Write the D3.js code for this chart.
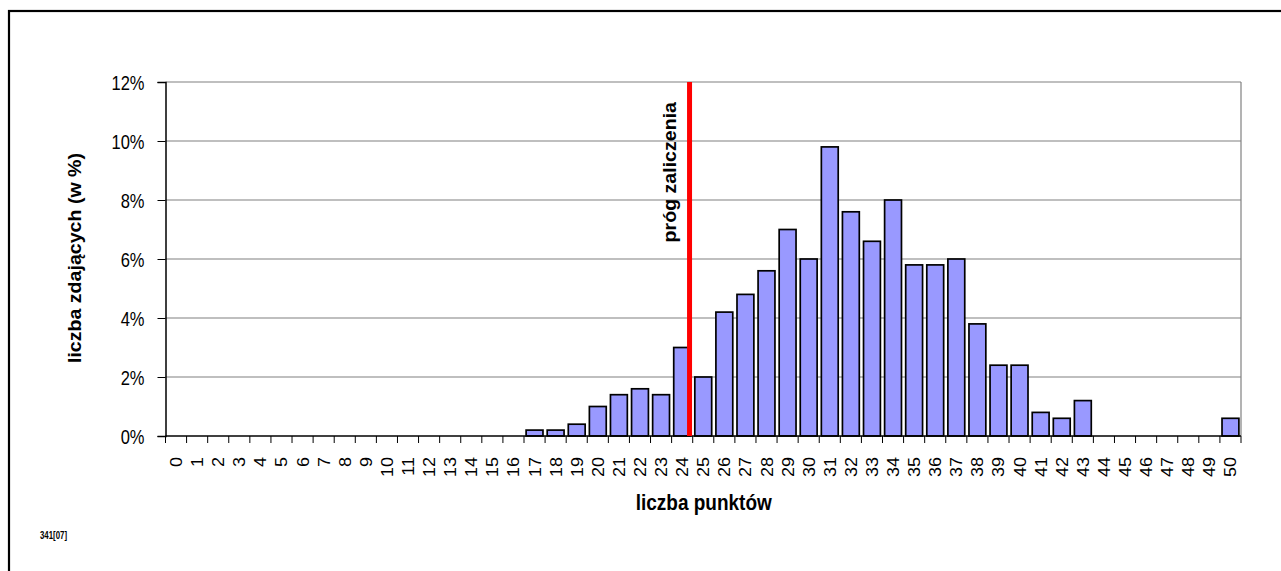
<!DOCTYPE html>
<html><head><meta charset="utf-8">
<script src="https://cdn.jsdelivr.net/npm/d3@7"></script>
<style>body{margin:0;background:#fff;} svg{display:block;font-family:"Liberation Sans",Arial,sans-serif;}</style>
</head><body>
<script>
const categories = d3.range(0, 51).map(String);
const values = [0,0,0,0,0,0,0,0,0,0,0,0,0,0,0,0,0,0.2,0.2,0.4,1.0,1.4,1.6,1.4,3.0,2.0,4.2,4.8,5.6,7.0,6.0,9.8,7.6,6.6,8.0,5.8,5.8,6.0,3.8,2.4,2.4,0.8,0.6,1.2,0,0,0,0,0,0,0.6];
const yTicks = [0,2,4,6,8,10,12];
const threshold = 24.85;
const thresholdLabel = "próg zaliczenia";
const xTitle = "liczba punktów";
const yTitle = "liczba zdających (w %)";
const footnote = "341[07]";

const W = 1281, H = 571;
const m = {left:165.5, top:82, right:1241, bottom:436};
const svg = d3.select("body").append("svg").attr("width", W).attr("height", H);

// outer frame
svg.append("rect").attr("x",9).attr("y",11).attr("width",1300).attr("height",600)
  .attr("fill","none").attr("stroke","#000").attr("stroke-width",2.2);

const xb = d3.scaleBand().domain(categories).range([m.left, m.right]).paddingInner(0.2).paddingOuter(0.1);
const xl = d3.scaleLinear().domain([0, categories.length]).range([m.left, m.right]);
const y = d3.scaleLinear().domain([0, 12]).range([m.bottom, m.top]);

// grid
svg.append("g").selectAll("line").data(yTicks.filter(d=>d>0)).join("line")
  .attr("x1", m.left).attr("x2", m.right).attr("y1", d=>y(d)).attr("y2", d=>y(d))
  .attr("stroke","#808080").attr("stroke-width",1.2);
// right border
svg.append("line").attr("x1",m.right).attr("x2",m.right).attr("y1",m.top).attr("y2",m.bottom)
  .attr("stroke","#808080").attr("stroke-width",1.2);

// bars
svg.append("g").selectAll("rect").data(values.map((v,i)=>({c:categories[i],v})).filter(d=>d.v>0)).join("rect")
  .attr("x", d=>xb(d.c)).attr("width", xb.bandwidth())
  .attr("y", d=>y(d.v)).attr("height", d=>y(0)-y(d.v))
  .attr("fill","#9999ff").attr("stroke","#000").attr("stroke-width",1.7);

// y axis
const yAxis = svg.append("g").attr("transform",`translate(${m.left},0)`)
  .call(d3.axisLeft(y).tickValues(yTicks).tickFormat(d=>d+"%").tickSize(8).tickPadding(13));
yAxis.selectAll("text").attr("font-size",16.5).attr("fill","#000").attr("font-family","Liberation Sans, Arial")
  .attr("dy",null).attr("y",6.5).attr("transform","scale(1,1.22)");
yAxis.select(".domain").attr("stroke","#000").attr("stroke-width",1.5);
yAxis.selectAll(".tick line").attr("stroke","#000");

// x axis
const xAxisG = svg.append("g").attr("transform",`translate(0,${m.bottom})`);
xAxisG.append("line").attr("x1",m.left).attr("x2",m.right).attr("stroke","#000").attr("stroke-width",1.5);
xAxisG.selectAll("line.tk").data(d3.range(0, categories.length+1)).join("line").attr("class","tk")
  .attr("x1",d=>xl(d)).attr("x2",d=>xl(d)).attr("y1",0).attr("y2",7).attr("stroke","#000");
xAxisG.selectAll("text").data(categories).join("text")
  .attr("transform", d=>`translate(${xb(d)+xb.bandwidth()/2+6},21) rotate(-90) scale(1.06,1)`)
  .attr("text-anchor","end").attr("font-size",17).attr("fill","#000").text(d=>d);

// threshold line
svg.append("line").attr("x1",xl(threshold)).attr("x2",xl(threshold)).attr("y1",m.top).attr("y2",m.bottom)
  .attr("stroke","#ff0000").attr("stroke-width",5);
svg.append("text").attr("transform",`translate(${xl(threshold)-14},${m.top+20}) rotate(-90) scale(1.12,1.05)`)
  .attr("text-anchor","end").attr("font-size",17.5).attr("font-weight","bold").attr("fill","#000").text(thresholdLabel);

// titles
svg.append("text").attr("transform",`translate(${(m.left+m.right)/2+0.5},510) scale(1,1.2)`).attr("text-anchor","middle")
  .attr("font-size",19).attr("font-weight","bold").text(xTitle);
svg.append("text").attr("transform",`translate(81,258) rotate(-90) scale(1.12,1.05)`).attr("text-anchor","middle")
  .attr("font-size",17.5).attr("font-weight","bold").text(yTitle);
svg.append("text").attr("transform","translate(40,539) scale(1,1.2)").attr("font-size",9).attr("font-weight","bold")
  .attr("textLength",27).attr("lengthAdjust","spacingAndGlyphs").text(footnote);
</script>
</body></html>
